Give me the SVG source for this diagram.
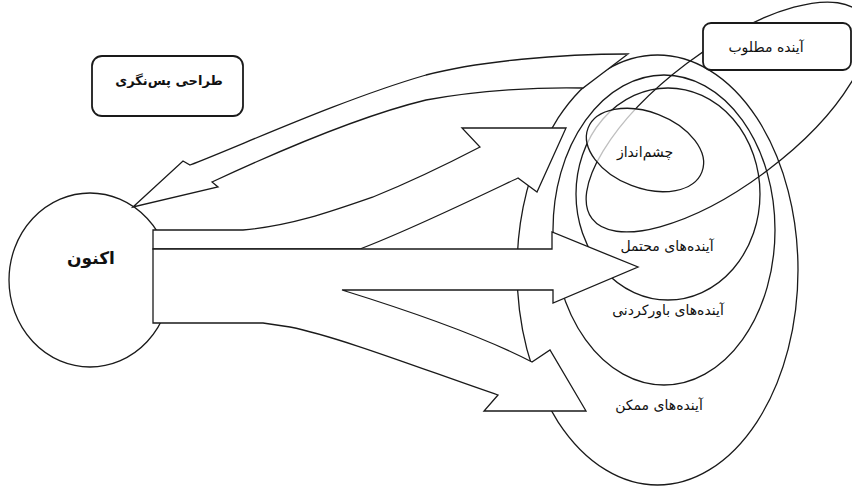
<svg xmlns="http://www.w3.org/2000/svg" width="852" height="486" viewBox="0 0 852 486">
<style>
.ln{fill:none;stroke:#1a1a1a;stroke-width:1.3}
.sh{fill:#fff;stroke:#1a1a1a;stroke-width:1.3;stroke-linejoin:miter}
.bx{fill:#fff;stroke:#1a1a1a;stroke-width:1.8}
.t{font-family:'DejaVu Sans','Noto Sans',sans-serif;fill:#111;text-anchor:middle}
</style>
<rect width="852" height="486" fill="#fff"/>
<g id="futures">
  <ellipse id="possible" class="ln" cx="657.5" cy="270" rx="140.5" ry="215"/>
  <ellipse id="plausible" class="ln" cx="664" cy="230" rx="111" ry="155"/>
  <ellipse id="probable" class="ln" cx="668" cy="194" rx="92" ry="106"/>
  <ellipse id="preferable" class="ln" cx="727" cy="117" rx="169" ry="67" transform="rotate(-37 727 117)"/>
</g>
<g id="vision">
  <ellipse cx="645" cy="150" rx="61" ry="38" transform="rotate(21 645 150)" fill="#fff" fill-opacity="0.72" stroke="#1a1a1a" stroke-width="1.3"/>
  <text class="t" x="645" y="157" font-size="14">چشم‌انداز</text>
</g>
<g id="now">
  <ellipse class="sh" cx="90" cy="280" rx="81" ry="87"/>
  <text class="t" x="91" y="264" font-size="17" font-weight="bold">اکنون</text>
</g>
<g id="connectors">
  <path class="sh" d="M133,207 L183,161 L190,165 C240,146 340,100 426,75 C480,61 560,54 628,54 L583,88 C540,87 480,90 426,100 C360,116 270,155 212,182 L218,187 Z"/>
  <path class="sh" d="M153,230 L243,230 C290,226 330,212 373,197 C420,178 455,160 480,147 L462,128 L566,128 L537,192 L518,178 C480,196 410,230 360,249 L153,249 Z"/>
  <path class="sh" d="M153,249 L552,249 L552,232 L638,267 L553,303 L553,290 L342,290 C400,308 480,335 532,362 L550,350 L586,411 L484,411 L498,395 C430,372 340,337 290,327 L263,323 L153,323 Z"/>
</g>
<g id="backcasting">
  <rect class="bx" x="92" y="56" width="151" height="60" rx="10"/>
  <text class="t" x="169" y="85" font-size="13" font-weight="bold">طراحی پس‌نگری</text>
</g>
<g id="preferable-label">
  <rect class="bx" x="703" y="23" width="148" height="47" rx="8"/>
  <text class="t" x="766" y="52" font-size="14">آینده مطلوب</text>
</g>
<g id="labels">
  <text class="t" x="667" y="251" font-size="14">آینده‌های محتمل</text>
  <text class="t" x="668" y="315" font-size="14">آینده‌های باورکردنی</text>
  <text class="t" x="659" y="410" font-size="14">آینده‌های ممکن</text>
</g>
</svg>
